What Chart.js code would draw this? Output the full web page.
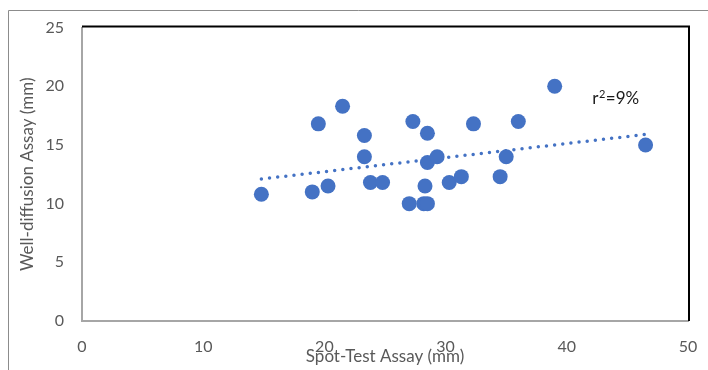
<!DOCTYPE html>
<html>
<head>
<meta charset="utf-8">
<script src="https://cdn.jsdelivr.net/npm/chart.js@4"></script>
<style>
  body { margin: 0; background: #fff; }
</style>
</head>
<body>
<canvas id="chart" width="708" height="370"></canvas>
<script>
// Spot-test vs well-diffusion zone sizes (mm)
const spotTest = [14.8, 19.0, 19.5, 20.3, 21.5, 23.3, 23.3, 23.8, 24.8, 27.0, 27.3, 28.2, 28.5,
                  28.3, 28.5, 28.5, 29.3, 30.3, 31.3, 32.3, 34.5, 35.0, 36.0, 39.0, 46.5];
const wellDiffusion = [10.8, 11.0, 16.8, 11.5, 18.3, 15.8, 14.0, 11.8, 11.8, 10.0, 17.0, 10.0, 10.0,
                       11.5, 16.0, 13.5, 14.0, 11.8, 12.3, 16.8, 12.3, 14.0, 17.0, 20.0, 15.0];

// linear trendline
const trendX = [14.8, 46.5];
const trendY = [12.1, 15.9];

const xTicks = [0, 10, 20, 30, 40, 50];
const yTicks = [0, 5, 10, 15, 20, 25];

// r² label, anchored at its baseline in data units
const note = { base: 'r', sup: '2', rest: '=9%', x: 42.1, y: 18.5 };

const blue = '#4472C4';
const grey = '#595959';
const fontFamily = 'Lato, "Open Sans", sans-serif';

const points = spotTest.map((x, i) => ({ x: x, y: wellDiffusion[i] }));
const trend = trendX.map((x, i) => ({ x: x, y: trendY[i] }));

// frames + r² label
const decor = {
    id: 'decor',
    beforeDraw(chart) {
        const ctx = chart.ctx;
        ctx.save();
        ctx.fillStyle = '#fff';
        ctx.fillRect(0, 0, chart.width, chart.height);
        ctx.strokeStyle = '#8c8c8c';
        ctx.lineWidth = 1;
        ctx.beginPath();
        ctx.moveTo(8.5, chart.height);
        ctx.lineTo(8.5, 10.5);
        ctx.lineTo(chart.width, 10.5);
        ctx.stroke();
        ctx.restore();
    },
    afterDraw(chart) {
        const ctx = chart.ctx;
        const a = chart.chartArea;
        ctx.save();
        ctx.strokeStyle = '#000';
        ctx.lineWidth = 2;
        ctx.beginPath();
        ctx.moveTo(a.left, a.top - 1);
        ctx.lineTo(a.right + 1, a.top - 1);
        ctx.lineTo(a.right + 1, a.bottom);
        ctx.stroke();

        let x = chart.scales.x.getPixelForValue(note.x);
        const y = chart.scales.y.getPixelForValue(note.y);
        ctx.fillStyle = '#1a1a1a';
        ctx.textBaseline = 'alphabetic';
        ctx.font = '17px ' + fontFamily;
        ctx.fillText(note.base, x, y);
        x += ctx.measureText(note.base).width + 0.5;
        ctx.font = '11px ' + fontFamily;
        ctx.fillText(note.sup, x, y - 6);
        x += ctx.measureText(note.sup).width + 0.5;
        ctx.font = '17px ' + fontFamily;
        ctx.fillText(note.rest, x, y);
        ctx.restore();
    }
};

new Chart(document.getElementById('chart'), {
    type: 'scatter',
    data: {
        datasets: [{
            label: 'Assays',
            data: points,
            backgroundColor: blue,
            borderColor: blue,
            pointRadius: 7.5,
            pointHoverRadius: 7.5,
            borderWidth: 0,
            order: 0
        }, {
            type: 'line',
            label: 'Trend',
            data: trend,
            borderColor: blue,
            borderWidth: 3.5,
            borderDash: [0, 8.2],
            borderCapStyle: 'round',
            pointRadius: 0,
            fill: false,
            order: 1
        }]
    },
    options: {
        responsive: false,
        animation: false,
        layout: { padding: { left: 0, right: 20, top: 24, bottom: 0 } },
        plugins: {
            legend: { display: false },
            tooltip: { enabled: false }
        },
        scales: {
            x: {
                type: 'linear',
                min: 0,
                max: 50,
                afterFit(scale) {
                    scale.height = 49;
                    scale.paddingLeft = 10;
                    scale.paddingRight = 10;
                },
                afterBuildTicks(scale) { scale.ticks = xTicks.map(v => ({ value: v })); },
                grid: { display: false, drawTicks: false },
                border: { display: true, color: '#a6a6a6', width: 2 },
                ticks: { color: grey, padding: 16, font: { family: fontFamily, size: 16 } },
                title: {
                    display: true,
                    text: 'Spot-Test Assay (mm)',
                    color: grey,
                    padding: { top: 0, bottom: 3 },
                    font: { family: fontFamily, size: 17 }
                }
            },
            y: {
                type: 'linear',
                min: 0,
                max: 25,
                afterFit(scale) { scale.width = 82; },
                afterBuildTicks(scale) { scale.ticks = yTicks.map(v => ({ value: v })); },
                grid: { display: false, drawTicks: false },
                border: { display: true, color: '#a6a6a6', width: 2 },
                ticks: { color: grey, padding: 18, font: { family: fontFamily, size: 16 } },
                title: {
                    display: true,
                    text: 'Well-diffusion Assay (mm)',
                    color: grey,
                    padding: { top: 17, bottom: 0 },
                    font: { family: fontFamily, size: 17 }
                }
            }
        }
    },
    plugins: [decor]
});
</script>
</body>
</html>
